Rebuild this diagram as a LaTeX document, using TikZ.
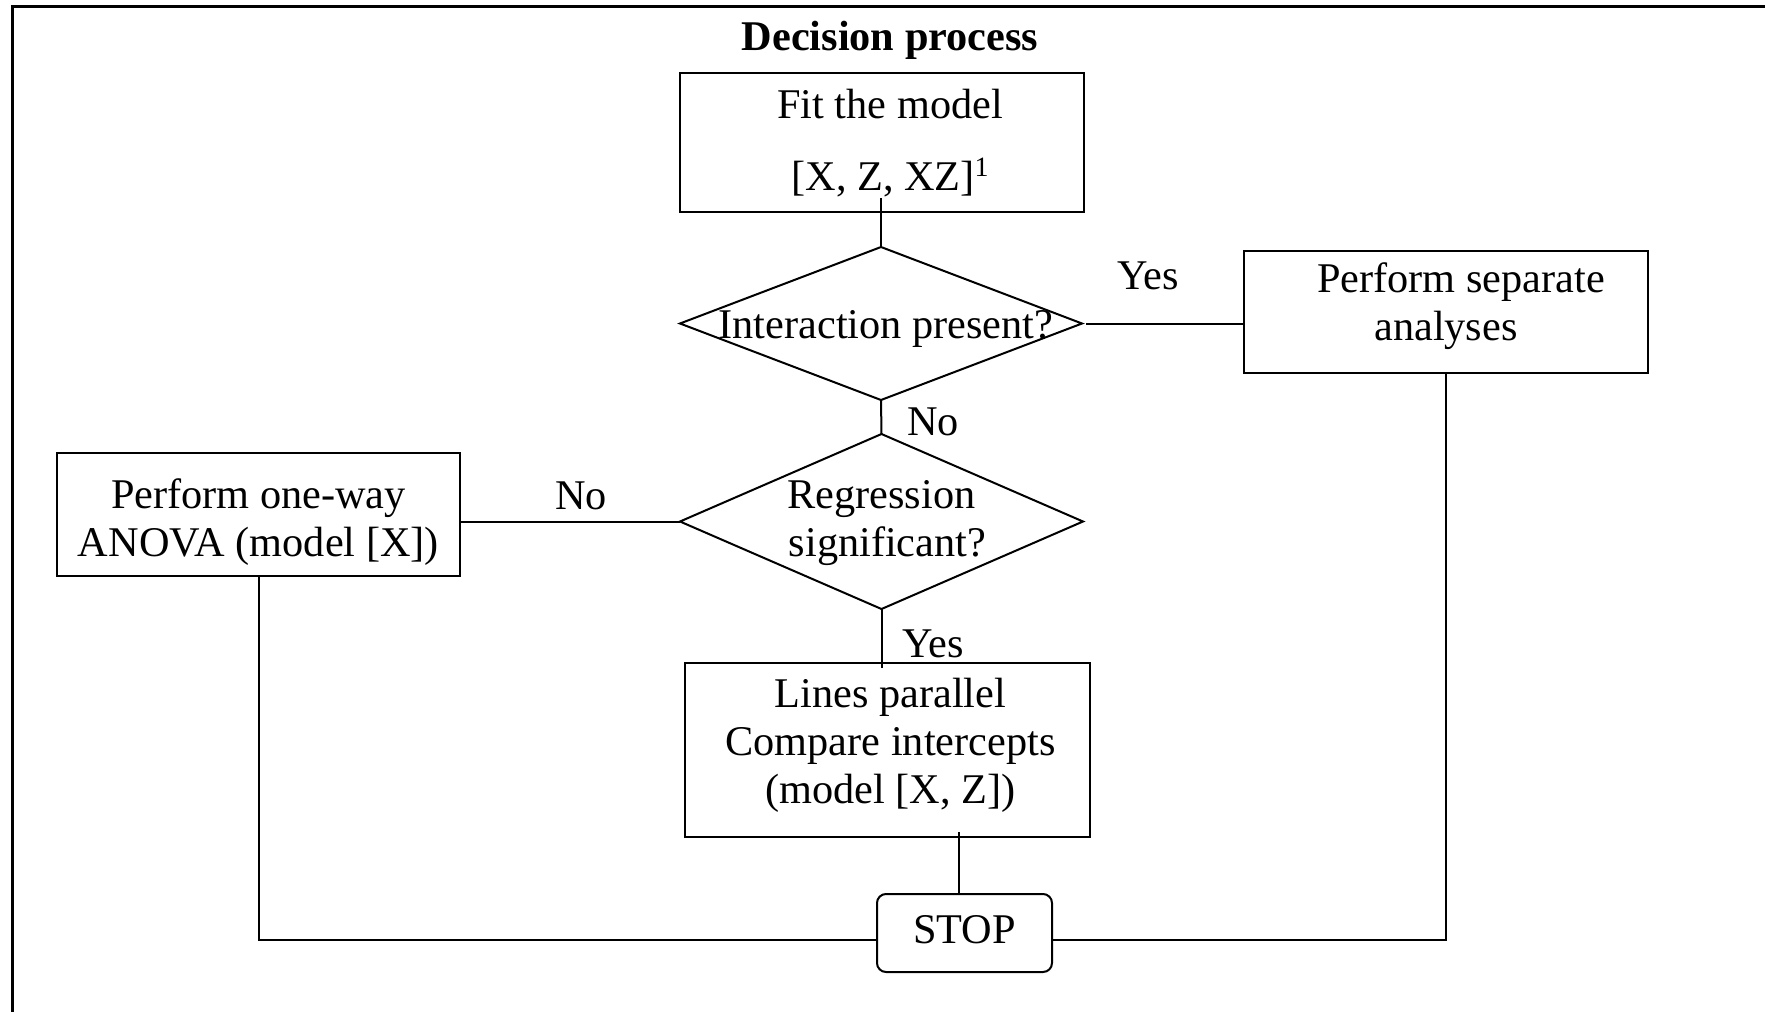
\documentclass[tikz,border=0pt]{standalone}
\usepackage{fontspec}
\setmainfont{Liberation Serif}
\usetikzlibrary{shapes.geometric,calc}
\newcommand\ctext[3]{\makebox[0pt]{\hspace*{#1}\raisebox{#2}[0pt][0pt]{\begin{tabular}[t]{@{}c@{}}#3\end{tabular}}}}
\newcommand\sups[1]{{\fontsize{28}{28}\selectfont\raisebox{14pt}{#1}}}
\begin{document}
\begin{tikzpicture}[x=1pt,y=-1pt,
  every node/.style={font=\fontsize{42.3}{48}\selectfont, inner sep=0pt, outer sep=0pt},
  box/.style={draw, rectangle, line width=2pt},
  decision/.style={draw, diamond, line width=2pt},
  terminal/.style={draw, rectangle, rounded corners=9pt, line width=2pt},
  conn/.style={line width=2pt},
  frame/.style={line width=2.2pt},
  lbl/.style={anchor=base}]
\useasboundingbox (0,0) rectangle (1765,1012);
\draw[frame] (12.5,1012) -- (12.5,6.5) -- (1765,6.5);

\node[lbl, font=\fontsize{42.3}{48}\selectfont\bfseries] (title) at (890,50) {Decision process};

\node[box, minimum width=404pt, minimum height=139pt] (fit) at (882,142.5)
  {\ctext{16pt}{24.5pt}{Fit the model\\[24pt]\relax[X, Z, XZ]\sups{1}}};
\node[decision, minimum width=402pt, minimum height=153pt] (d1) at (881,323.5)
  {\ctext{10pt}{-15pt}{Interaction present?}};
\node[box, minimum width=404pt, minimum height=122pt] (sep) at (1446,312)
  {\ctext{0pt}{20pt}{\hspace*{30pt}Perform separate\\analyses}};
\node[decision, minimum width=403pt, minimum height=175pt] (d2) at (881.5,521.5)
  {\ctext{0pt}{13.5pt}{Regression\\\hspace*{12pt}significant?}};
\node[box, minimum width=403pt, minimum height=123pt] (anova) at (258.5,514.5)
  {\ctext{0pt}{6.5pt}{Perform one-way\\ANOVA (model [X])}};
\node[box, minimum width=405pt, minimum height=174pt] (lines) at (887.5,750)
  {\ctext{6pt}{43pt}{Lines parallel\\Compare intercepts\\(model [X, Z])}};
\node[terminal, minimum width=175pt, minimum height=78pt] (stop) at (964.5,933)
  {\ctext{0pt}{-10pt}{STOP}};

\node[lbl] (yes1) at (1148,289) {Yes};
\node[lbl] (no1) at (933,435) {No};
\node[lbl] (no2) at (581,509) {No};
\node[lbl] (yes2) at (933,657) {Yes};

\draw[conn] ($(fit.south -| d1.north)+(0,-14)$) -- (d1.north);
\draw[conn] ($(d1.east)+(4,0)$) -- (d1.east -| sep.west);
\draw[conn] (d1.south) -- (d2.north);
\draw[conn] (d2.west) -- (d2.west -| anova.east);
\draw[conn] (d2.south) -- ($(d2.south |- lines.north)+(0,5)$);
\draw[conn] ($(stop.north)+(-6,0)$) -- ($(stop.north |- lines.south)+(-6,-5)$);
\draw[conn] (anova.south) |- ($(stop.west)+(0,7)$);
\draw[conn] (sep.south) |- ($(stop.east)+(0,7)$);
\end{tikzpicture}
\end{document}
